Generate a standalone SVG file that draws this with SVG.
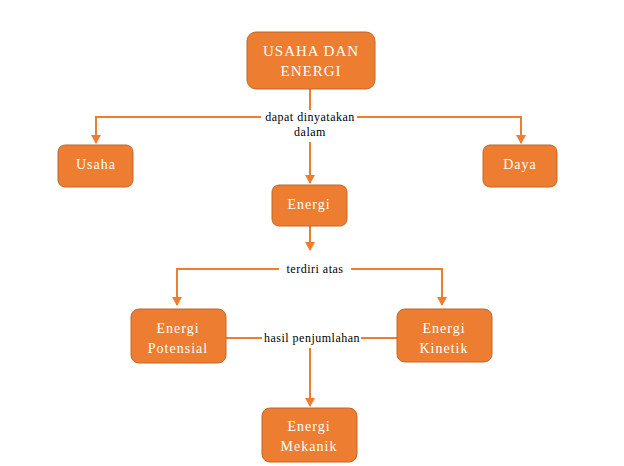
<svg xmlns="http://www.w3.org/2000/svg" width="624" height="466" viewBox="0 0 624 466">
<defs>
<style>
.box{fill:#ED7D31;stroke:#C0662A;stroke-width:1}
.nt{fill:#fff;font-family:"Liberation Serif","Times New Roman","DejaVu Serif",serif;font-size:14px;letter-spacing:1px;text-anchor:middle}
.lt{fill:#000;font-family:"Liberation Serif","Times New Roman","DejaVu Serif",serif;font-size:12px;letter-spacing:0.5px;text-anchor:middle}
.ln{fill:none;stroke:#ED7D31;stroke-width:2}
</style>
<marker id="ah" markerWidth="10" markerHeight="10" refX="8" refY="5" orient="auto" markerUnits="userSpaceOnUse">
<path d="M0,0 L9,5 L0,10 z" fill="#ED7D31"/>
</marker>
</defs>
<rect width="624" height="466" fill="#fff"/>
<g id="connectors">
<path class="ln" d="M310,89 V110"/>
<path class="ln" d="M261,117 H96 V143" marker-end="url(#ah)"/>
<path class="ln" d="M357,117 H521 V143" marker-end="url(#ah)"/>
<path class="ln" d="M310,142 V183" marker-end="url(#ah)"/>
<path class="ln" d="M310,226 V250" marker-end="url(#ah)"/>
<path class="ln" d="M279,269 H177 V305" marker-end="url(#ah)"/>
<path class="ln" d="M351,269 H442 V305" marker-end="url(#ah)"/>
<path class="ln" d="M226,338 H262"/>
<path class="ln" d="M361,338 H397"/>
<path class="ln" d="M310,348 V406" marker-end="url(#ah)"/>
<text class="lt" x="310" y="121">dapat dinyatakan</text>
<text class="lt" x="310" y="136">dalam</text>
<text class="lt" x="315" y="273">terdiri atas</text>
<text class="lt" x="312" y="342">hasil penjumlahan</text>
</g>
<g id="n-usaha-energi">
<rect class="box" x="247" y="32" width="128" height="57" rx="9"/>
<text class="nt" x="311" y="56" style="font-size:15px">USAHA DAN</text>
<text class="nt" x="311" y="76" style="font-size:15px">ENERGI</text>
</g>
<g id="n-usaha">
<rect class="box" x="58" y="145" width="75" height="42" rx="7"/>
<text class="nt" x="96" y="169">Usaha</text>
</g>
<g id="n-daya">
<rect class="box" x="483" y="145" width="74" height="42" rx="7"/>
<text class="nt" x="520" y="169">Daya</text>
</g>
<g id="n-energi">
<rect class="box" x="272" y="185" width="75" height="41" rx="7"/>
<text class="nt" x="309" y="209">Energi</text>
</g>
<g id="n-potensial">
<rect class="box" x="131" y="309" width="95" height="54" rx="8"/>
<text class="nt" x="178" y="333">Energi</text>
<text class="nt" x="178" y="353">Potensial</text>
</g>
<g id="n-kinetik">
<rect class="box" x="397" y="309" width="95" height="53" rx="8"/>
<text class="nt" x="444" y="333">Energi</text>
<text class="nt" x="444" y="353">Kinetik</text>
</g>
<g id="n-mekanik">
<rect class="box" x="262" y="408" width="95" height="54" rx="8"/>
<text class="nt" x="309" y="431">Energi</text>
<text class="nt" x="309" y="451">Mekanik</text>
</g>
</svg>
